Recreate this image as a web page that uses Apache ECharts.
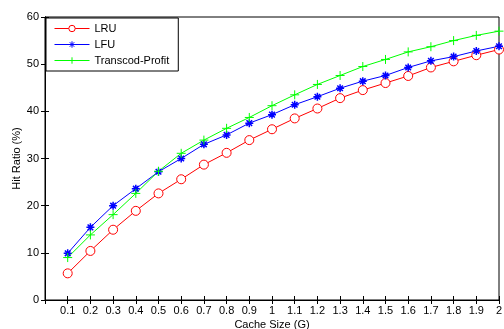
<!DOCTYPE html>
<html>
<head>
<meta charset="utf-8">
<script src="https://cdn.jsdelivr.net/npm/echarts@6/dist/echarts.min.js"></script>
<style>html,body{margin:0;padding:0;background:#fff}#c{width:504px;height:329px}</style>
</head>
<body>
<div id="c"></div>
<script>
var cacheSizes = [0.1,0.2,0.3,0.4,0.5,0.6,0.7,0.8,0.9,1.0,1.1,1.2,1.3,1.4,1.5,1.6,1.7,1.8,1.9,2.0];
var lru = [5.65,10.4,14.9,18.9,22.6,25.6,28.7,31.2,33.9,36.2,38.5,40.6,42.8,44.5,46.0,47.5,49.3,50.6,51.9,53.1];
var lfu = [9.9,15.4,20.0,23.6,27.2,30.0,33.0,35.0,37.5,39.3,41.4,43.1,44.9,46.4,47.6,49.3,50.7,51.6,52.8,53.8];
var transcod = [9.0,13.8,18.1,22.6,27.3,31.1,33.9,36.4,38.7,41.2,43.5,45.7,47.6,49.5,51.0,52.6,53.7,55.0,56.1,57.0];
var yTicks = [0,10,20,30,40,50,60];

function pairs(vals){ return cacheSizes.map(function(x,i){ return [x, vals[i]]; }); }
var font = 'Liberation Sans, Arial, sans-serif';
var chart = echarts.init(document.getElementById('c'), null, {renderer:'canvas'});
var plusPath = 'path://M5,0L5,10M0,5L10,5';
var starPath = 'path://M5,0L5,10M0,5L10,5M1.5,1.5L8.5,8.5M1.5,8.5L8.5,1.5';
var axisCommon = {
  axisLine:{show:true, lineStyle:{color:'#000', width:1}},
  axisTick:{show:true, inside:true, length:4, lineStyle:{color:'#000'}},
  splitLine:{show:false}
};
chart.setOption({
  animation:false,
  backgroundColor:'#fff',
  grid:{left:45, right:5, top:17, bottom:29, outerBoundsMode:'none', containLabel:false, show:true, borderColor:'#000', borderWidth:1, backgroundColor:'transparent'},
  legend:{
    left:46, top:18, orient:'vertical', itemGap:5, itemWidth:35, itemHeight:8,
    padding:[5,9,5,8], borderColor:'#000', borderWidth:1, backgroundColor:'#fff',
    lineStyle:{width:1},
    itemStyle:{borderWidth:1},
    textStyle:{fontFamily:font, fontSize:11, color:'#000'},
    data:['LRU','LFU','Transcod-Profit']
  },
  xAxis:[
    Object.assign({type:'value', min:0, max:2, interval:0.1, position:'bottom',
      name:'Cache Size (G)', nameLocation:'middle', nameGap:19, nameMoveOverlap:false,
      nameTextStyle:{fontFamily:font, fontSize:11, color:'#000'},
      axisLabel:{fontFamily:font, fontSize:11, color:'#000', margin:5, showMinLabel:false,
        formatter:function(v){ if(Math.abs(v)<1e-9) return ''; return String(parseFloat(v.toFixed(1))); }}
    }, axisCommon),
    Object.assign({type:'value', min:0, max:2, interval:0.1, position:'top', axisLabel:{show:false}}, axisCommon)
  ],
  yAxis:[
    Object.assign({type:'value', min:yTicks[0], max:yTicks[yTicks.length-1], interval:10, position:'left',
      name:'Hit Ratio (%)', nameLocation:'middle', nameGap:23, nameMoveOverlap:false,
      nameTextStyle:{fontFamily:font, fontSize:11, color:'#000'},
      axisLabel:{fontFamily:font, fontSize:11, color:'#000', margin:6}
    }, axisCommon),
    Object.assign({type:'value', min:yTicks[0], max:yTicks[yTicks.length-1], interval:10, position:'right', axisLabel:{show:false}}, axisCommon)
  ],
  series:[
    {name:'LRU', type:'line', data:pairs(lru), symbol:'circle', symbolSize:9, showAllSymbol:true,
      lineStyle:{color:'#ff0000', width:1}, itemStyle:{color:'#ffffff', borderColor:'#ff0000', borderWidth:1}, color:'#ff0000'},
    {name:'LFU', type:'line', data:pairs(lfu), symbol:starPath, symbolSize:8, showAllSymbol:true,
      lineStyle:{color:'#0000ff', width:1}, itemStyle:{color:'#0000ff', borderColor:'#0000ff', borderWidth:1.5}, color:'#0000ff'},
    {name:'Transcod-Profit', type:'line', data:pairs(transcod), symbol:plusPath, symbolSize:9, showAllSymbol:true,
      lineStyle:{color:'#00ff00', width:1}, itemStyle:{color:'#00ff00', borderColor:'#00ff00', borderWidth:1}, color:'#00ff00'}
  ]
});
</script>
</body>
</html>
